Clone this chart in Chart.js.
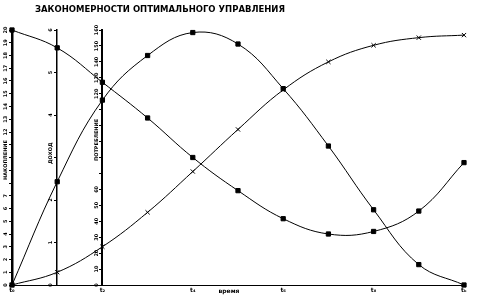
<!DOCTYPE html>
<html>
<head>
<meta charset="utf-8">
<script src="https://cdn.jsdelivr.net/npm/chart.js@4/dist/chart.umd.min.js"></script>
<style>
  html, body { margin: 0; padding: 0; background: #fff; }
  #wrap { width: 479px; height: 296px; }
</style>
</head>
<body>
<div id="wrap"><canvas id="chart"></canvas></div>
<script>
const TITLE = "ЗАКОНОМЕРНОСТИ ОПТИМАЛЬНОГО УПРАВЛЕНИЯ"
const X_TITLE = "время"

const times = [0, 0.1, 0.2, 0.3, 0.4, 0.5, 0.6, 0.7, 0.8, 0.9, 1.0]
const timeLabels = { 0: "t₀", 0.2: "t₂", 0.4: "t₄", 0.6: "t₆", 0.8: "t₈", 1: "tₖ" }

const falling = [20.0, 18.6, 15.9, 13.1, 10.0, 7.4, 5.2, 4.0, 4.2, 5.8, 9.6]
const bell    = [0, 8.1, 14.5, 18.0, 19.8, 18.9, 15.4, 10.9, 5.9, 1.6, 0]
const rising  = [0, 1.0, 3.0, 5.7, 8.9, 12.2, 15.3, 17.5, 18.8, 19.4, 19.6]

// three vertical axes standing at different moments of time
const axisAt     = { y: 0, y2: 0.1, y3: 0.2 }
const axisTitles = { y: "НАКОПЛЕНИЕ", y2: "ДОХОД", y3: "ПОТРЕБЛЕНИЕ" }
const axisTitleAt = { y: 9.8, y2: 3.1, y3: 91 }   // in units of each axis
const hiddenTicks = { y: [8, 9, 10, 11], y2: [3], y3: [70, 80, 90, 100, 110] }

const INK = "#000"
const FONT = '"DejaVu Sans", sans-serif'

const toPoints = arr => arr.map((v, i) => ({ x: times[i], y: v }))

const annotate = {
  id: "annotate",
  afterDraw(chart) {
    const { ctx, chartArea, scales } = chart
    ctx.save()
    ctx.fillStyle = INK

    ctx.font = `bold 9px ${FONT}`
    ctx.textAlign = "left"
    ctx.textBaseline = "middle"
    ctx.fillText(TITLE, 35, 10, 250)

    ctx.font = `bold 6px ${FONT}`
    ctx.textAlign = "center"
    ctx.fillText(X_TITLE, scales.x.getPixelForValue(0.48), chartArea.bottom + 6)

    for (const id of Object.keys(axisAt)) {
      const s = scales[id]
      const lx = scales.x.getPixelForValue(axisAt[id]) - 6
      ctx.font = `bold 5px ${FONT}`
      s.ticks.forEach(t => {
        if (hiddenTicks[id].includes(t.value)) return
        ctx.save()
        ctx.translate(lx, s.getPixelForValue(t.value))
        ctx.rotate(-Math.PI / 2)
        ctx.fillText(String(t.value), 0, 0)
        ctx.restore()
      })
      ctx.save()
      ctx.translate(lx, s.getPixelForValue(axisTitleAt[id]))
      ctx.rotate(-Math.PI / 2)
      ctx.fillText(axisTitles[id], 0, 0)
      ctx.restore()
    }
    ctx.restore()
  }
}

const yAxis = (id, max, step, width) => ({
  type: "linear",
  position: { x: axisAt[id] },
  min: 0,
  max: max,
  ticks: { display: false, stepSize: step },
  grid: { display: true, drawOnChartArea: false, drawTicks: true, tickLength: 2, color: INK, lineWidth: 1 },
  border: { display: true, color: INK, width: width }
})

const line = (data, style, radius) => ({
  data: toPoints(data),
  borderColor: INK,
  backgroundColor: INK,
  borderWidth: 1,
  tension: 0.4,
  pointStyle: style,
  pointRadius: radius,
  pointBorderWidth: 1,
  clip: false
})

new Chart(document.getElementById("chart"), {
  type: "line",
  data: {
    datasets: [
      line(falling, "rect", 3),
      line(bell, "rect", 3),
      line(rising, "crossRot", 3)
    ]
  },
  options: {
    responsive: true,
    maintainAspectRatio: false,
    animation: false,
    layout: { padding: { left: 12, right: 15, top: 30, bottom: 0 } },
    plugins: {
      legend: { display: false },
      tooltip: { enabled: false }
    },
    scales: {
      x: {
        type: "linear",
        min: 0,
        max: 1,
        afterFit: s => { s.height = 11 },
        ticks: {
          stepSize: 0.2,
          padding: 2,
          maxRotation: 0,
          color: INK,
          font: { size: 6, weight: "bold", family: FONT },
          callback: v => timeLabels[Math.round(v * 10) / 10] ?? ""
        },
        grid: { display: false, drawTicks: false },
        border: { display: true, color: INK, width: 1 }
      },
      y:  yAxis("y", 20, 1, 2.5),
      y2: yAxis("y2", 6, 1, 1.5),
      y3: yAxis("y3", 160, 10, 2)
    }
  },
  plugins: [annotate]
})
</script>
</body>
</html>
